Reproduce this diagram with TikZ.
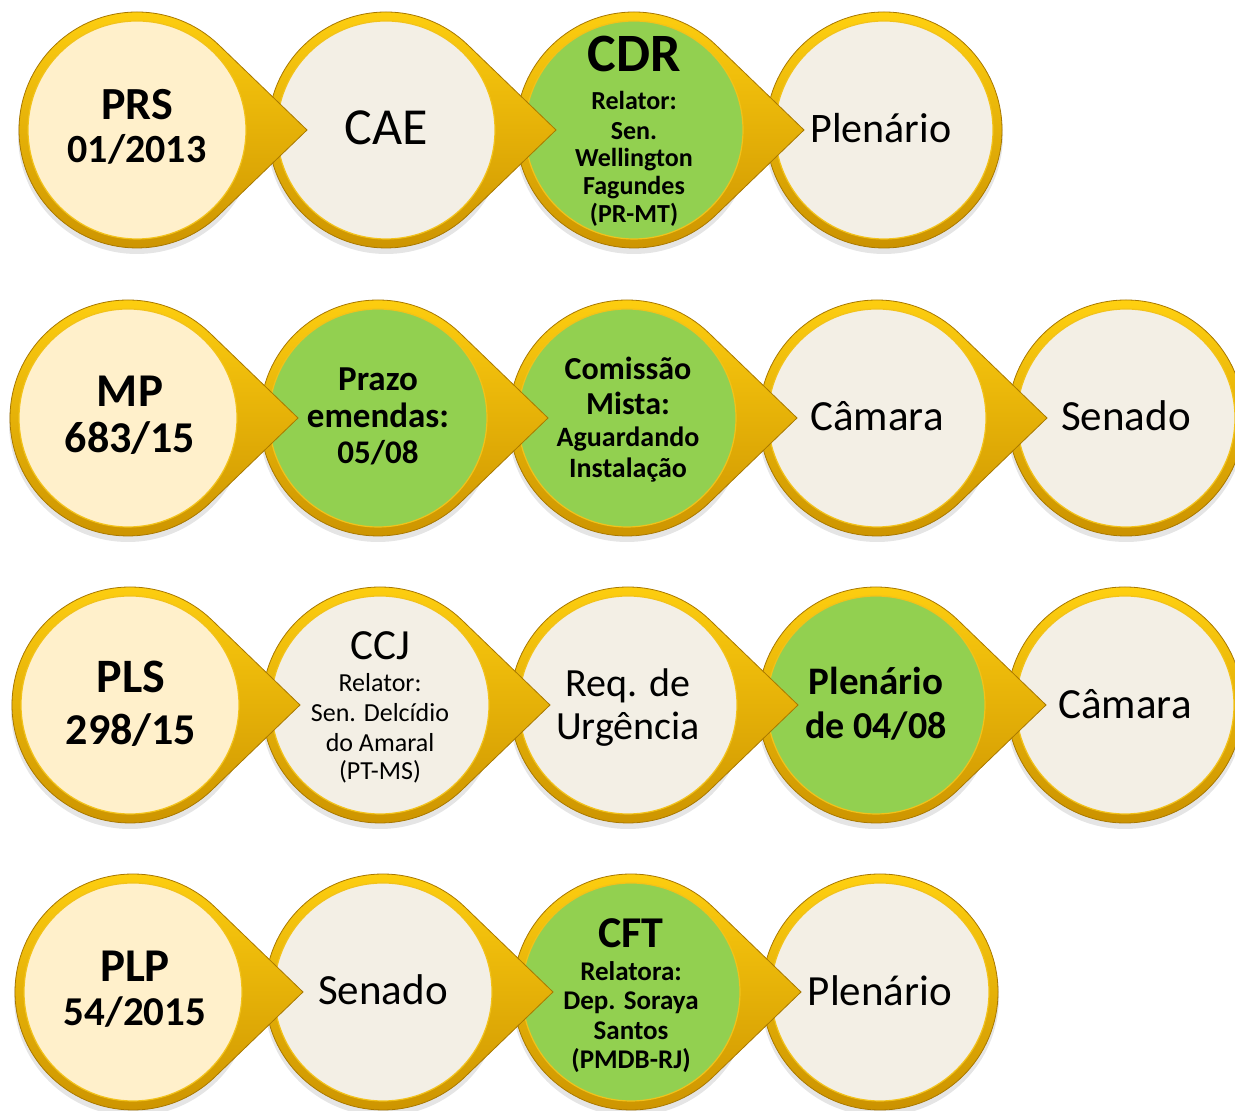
\documentclass[tikz,border=0pt]{standalone}
\usepackage{fontspec}
\setmainfont{Carlito}
\definecolor{goldtop}{HTML}{FFD010}
\definecolor{goldbot}{HTML}{CB9200}
\definecolor{goldedge}{HTML}{A87800}
\definecolor{goldin}{HTML}{F2C21A}
\definecolor{cream}{HTML}{FFF0CB}
\definecolor{beige}{HTML}{F3EFE5}
\definecolor{leaf}{HTML}{92D050}
\tikzset{
  ring/.style={top color=goldtop, bottom color=goldbot, draw=goldedge, line width=0.8pt},
  disc/.style={draw=goldin, line width=1.2pt},
  shadowc/.style={fill=black, opacity=0.10},
  lbl/.style={inner sep=0pt, anchor=base, text=black},
  fs/.style={font=\fontsize{#1}{#1}\selectfont},
  fb/.style={font=\fontsize{#1}{#1}\selectfont\bfseries}
}
\newcommand\bubbleP[3]{%
  \fill[shadowc] (#1,{#2-5}) circle (119pt);
  \shade[ring] ([shift={(46:118pt)}]#1,#2) -- ({#1+170},#2) -- ([shift={(-46:118pt)}]#1,#2)
     arc[start angle=-46, end angle=-314, radius=118pt] -- cycle;
  \filldraw[disc, fill=#3] (#1,#2) circle (109pt);
}
\newcommand\bubbleN[3]{%
  \fill[shadowc] (#1,{#2-5}) circle (119pt);
  \shade[ring] (#1,#2) circle (118pt);
  \filldraw[disc, fill=#3] (#1,#2) circle (109pt);
}
\begin{document}
\begin{tikzpicture}[x=1pt,y=1pt]
\useasboundingbox (0,0) rectangle (1235,1111);
\clip (0,0) rectangle (1235,1111);
% ---------- row 1 ----------
\bubbleN{884}{981}{beige}
\bubbleP{634}{981}{leaf}
\bubbleP{386}{981}{beige}
\bubbleP{137}{981}{cream}
\node[lbl, fb=46] (prsA) at (137,991) {PRS};
\node[lbl, fb=40] (prsB) at (137,948) {01/2013};
\node[lbl, fs=52] (cae) at (386,966) {CAE};
\node[lbl, fb=54] (cdr) at (634,1039) {CDR};
\node[lbl, fb=26] (cdr1) at (634,1001) {Relator:};
\node[lbl, fb=26] (cdr2) at (634,971) {Sen.};
\node[lbl, fb=26] (cdr3) at (634,944) {Wellington};
\node[lbl, fb=26] (cdr4) at (634,916) {Fagundes};
\node[lbl, fb=26] (cdr5) at (634,888) {(PR-MT)};
\node[lbl, fs=42] (plen1) at (881,968) {Plenário};
% ---------- row 2 ----------
\bubbleN{1126}{693}{beige}
\bubbleP{877}{693}{beige}
\bubbleP{627}{693}{leaf}
\bubbleP{378}{693}{leaf}
\bubbleP{128}{693}{cream}
\node[lbl, fb=47] (mpA) at (130,704) {MP};
\node[lbl, fb=44] (mpB) at (130,658) {683/15};
\node[lbl, fb=35] (prz1) at (378,720) {Prazo};
\node[lbl, fb=35] (prz2) at (378,683) {emendas:};
\node[lbl, fb=33] (prz3) at (378,647) {05/08};
\node[lbl, fb=32] (com1) at (628,731) {Comissão};
\node[lbl, fb=32] (com2) at (628,696) {Mista:};
\node[lbl, fb=28] (com3) at (628,664) {Aguardando};
\node[lbl, fb=28] (com4) at (628,633) {Instalação};
\node[lbl, fs=43] (cam2) at (877,680) {Câmara};
\node[lbl, fs=43] (sen2) at (1126,680) {Senado};
% ---------- row 3 ----------
\bubbleN{1125}{406}{beige}
\bubbleP{876}{406}{leaf}
\bubbleP{628}{406}{beige}
\bubbleP{380}{406}{beige}
\bubbleP{130}{406}{cream}
\node[lbl, fb=48] (plsA) at (131,418) {PLS};
\node[lbl, fb=44] (plsB) at (131,366) {298/15};
\node[lbl, fs=43] (ccj) at (380,451) {CCJ};
\node[lbl, fs=26] (ccj1) at (380,419) {Relator:};
\node[lbl, fs=26] (ccj2) at (380,389) {Sen. Delcídio};
\node[lbl, fs=26] (ccj3) at (380,359) {do Amaral};
\node[lbl, fs=26] (ccj4) at (380,331) {(PT-MS)};
\node[lbl, fs=40] (req1) at (628,414) {Req. de};
\node[lbl, fs=40] (req2) at (628,371) {Urgência};
\node[lbl, fb=39] (pl3a) at (876,416) {Plenário};
\node[lbl, fb=38] (pl3b) at (876,372) {de 04/08};
\node[lbl, fs=43] (cam3) at (1125,392) {Câmara};
% ---------- row 4 ----------
\bubbleN{880}{119}{beige}
\bubbleP{631}{119}{leaf}
\bubbleP{383}{119}{beige}
\bubbleP{133}{119}{cream}
\node[lbl, fb=47] (plpA) at (135,129) {PLP};
\node[lbl, fb=41] (plpB) at (135,85) {54/2015};
\node[lbl, fs=43] (sen4) at (383,106) {Senado};
\node[lbl, fb=44] (cft) at (631,163) {CFT};
\node[lbl, fb=27] (cft1) at (631,130) {Relatora:};
\node[lbl, fb=27] (cft2) at (631,101) {Dep. Soraya};
\node[lbl, fb=27] (cft3) at (631,71) {Santos};
\node[lbl, fb=27] (cft4) at (631,42) {(PMDB-RJ)};
\node[lbl, fs=43] (pl4) at (880,105) {Plenário};
\end{tikzpicture}
\end{document}
